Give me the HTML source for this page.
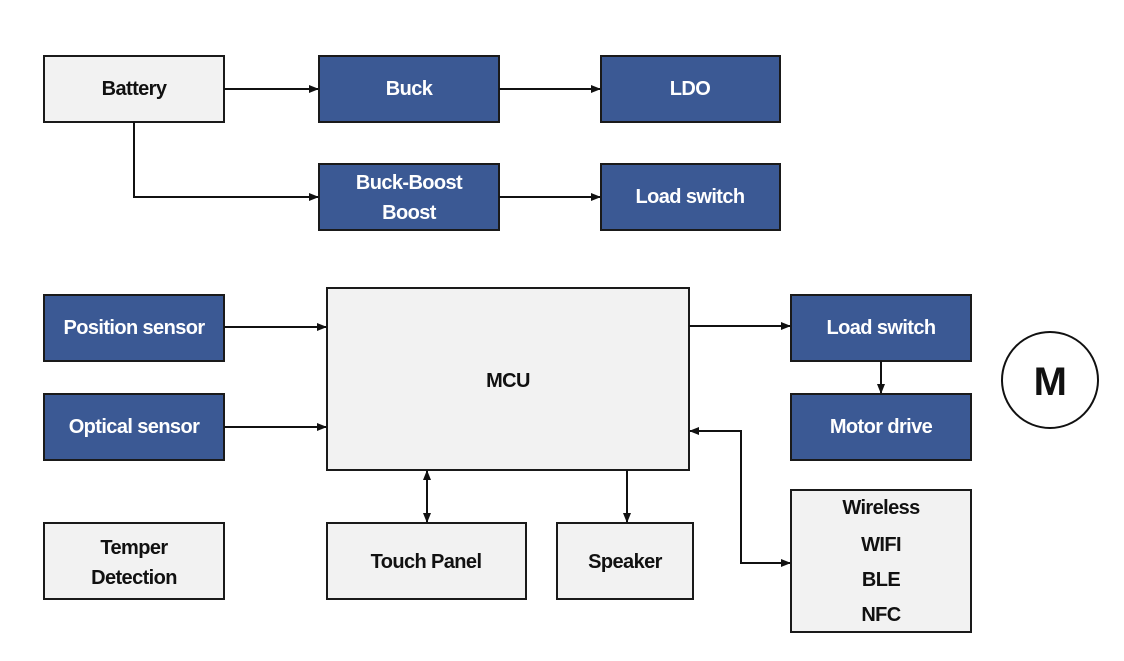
<!DOCTYPE html>
<html><head><style>
html,body{margin:0;padding:0;background:#fff;}
svg{display:block;}
text{font-family:"Liberation Sans",Arial,sans-serif;font-weight:bold;font-size:20px;letter-spacing:-0.6px;text-anchor:middle;dominant-baseline:central;}
.b{fill:#3b5994;stroke:#1a1a1a;stroke-width:2;}
.g{fill:#f2f2f2;stroke:#1a1a1a;stroke-width:2;}
.w{fill:#fff;}
.k{fill:#111;}
.l{stroke:#111;stroke-width:2;fill:none;}
</style></head><body>
<svg width="1124" height="661" viewBox="0 0 1124 661" xmlns="http://www.w3.org/2000/svg">
<defs>
<marker id="a" markerWidth="10" markerHeight="10" refX="9" refY="5" orient="auto" markerUnits="userSpaceOnUse">
<path d="M0,1 L10,5 L0,9 z" fill="#111"/></marker>
<marker id="s" markerWidth="10" markerHeight="10" refX="1" refY="5" orient="auto" markerUnits="userSpaceOnUse">
<path d="M10,1 L0,5 L10,9 z" fill="#111"/></marker>
</defs>
<rect class="g" x="44" y="56" width="180" height="66"/><text class="k" x="134" y="89">Battery</text>
<rect class="b" x="319" y="56" width="180" height="66"/><text class="w" x="409" y="89">Buck</text>
<rect class="b" x="601" y="56" width="179" height="66"/><text class="w" x="690" y="89">LDO</text>
<rect class="b" x="319" y="164" width="180" height="66"/><text class="w" x="409" y="183">Buck-Boost</text><text class="w" x="409" y="213">Boost</text>
<rect class="b" x="601" y="164" width="179" height="66"/><text class="w" x="690" y="197">Load switch</text>

<rect class="b" x="44" y="295" width="180" height="66"/><text class="w" x="134" y="328">Position sensor</text>
<rect class="b" x="44" y="394" width="180" height="66"/><text class="w" x="134" y="427">Optical sensor</text>
<rect class="g" x="327" y="288" width="362" height="182"/><text class="k" x="508" y="381">MCU</text>
<rect class="b" x="791" y="295" width="180" height="66"/><text class="w" x="881" y="328">Load switch</text>
<rect class="b" x="791" y="394" width="180" height="66"/><text class="w" x="881" y="427">Motor drive</text>
<circle cx="1050" cy="380" r="48" fill="#fff" stroke="#111" stroke-width="2"/>
<text class="k" x="1050" y="382" style="font-size:40px">M</text>

<rect class="g" x="44" y="523" width="180" height="76"/><text class="k" x="134" y="548">Temper</text><text class="k" x="134" y="578">Detection</text>
<rect class="g" x="327" y="523" width="199" height="76"/><text class="k" x="426" y="562">Touch Panel</text>
<rect class="g" x="557" y="523" width="136" height="76"/><text class="k" x="625" y="562">Speaker</text>
<rect class="g" x="791" y="490" width="180" height="142"/>
<text class="k" x="881" y="508">Wireless</text><text class="k" x="881" y="545">WIFI</text><text class="k" x="881" y="580">BLE</text><text class="k" x="881" y="615">NFC</text>

<path class="l" d="M224,89 H318" marker-end="url(#a)"/>
<path class="l" d="M499,89 H600" marker-end="url(#a)"/>
<path class="l" d="M134,122 V197 H318" marker-end="url(#a)"/>
<path class="l" d="M499,197 H600" marker-end="url(#a)"/>
<path class="l" d="M224,327 H326" marker-end="url(#a)"/>
<path class="l" d="M224,427 H326" marker-end="url(#a)"/>
<path class="l" d="M689,326 H790" marker-end="url(#a)"/>
<path class="l" d="M881,361 V393" marker-end="url(#a)"/>
<path class="l" d="M427,471 V522" marker-start="url(#s)" marker-end="url(#a)"/>
<path class="l" d="M627,470 V522" marker-end="url(#a)"/>
<path class="l" d="M690,431 H741 V563 H790" marker-start="url(#s)" marker-end="url(#a)"/>
</svg>
</body></html>
